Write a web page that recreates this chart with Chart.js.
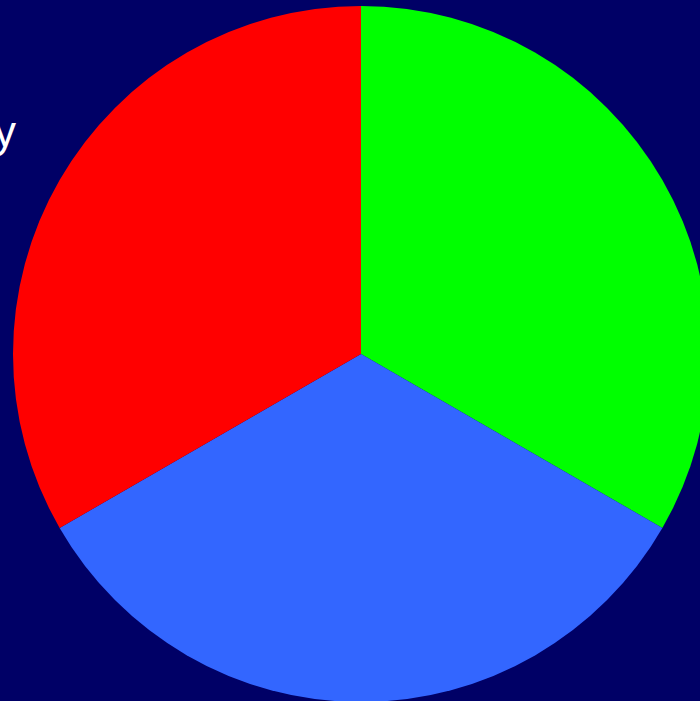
<!DOCTYPE html>
<html>
<head>
<meta charset="utf-8">
<script src="https://cdn.jsdelivr.net/npm/chart.js@4"></script>
<style>
  html, body { margin: 0; padding: 0; background: #000066; overflow: hidden; width: 700px; height: 701px; }
  #wrap { position: absolute; left: 13px; top: 6px; width: 696px; height: 696px; }
  #caption { position: absolute; right: 684px; top: 107px; color: #fff; font: 44px "Liberation Sans", Arial, sans-serif; white-space: nowrap; }
</style>
</head>
<body>
<div id="caption">Category</div>
<div id="wrap"><canvas id="pie"></canvas></div>
<script>
const labels = ['Green', 'Blue', 'Red']
const values = [1, 1, 1]
const colors = ['#00ff00', '#3366ff', '#ff0000']

new Chart(document.getElementById('pie'), {
    type: 'pie',
    data: {
        labels,
        datasets: [{
            data: values,
            backgroundColor: colors,
            borderWidth: 0
        }]
    },
    options: {
        responsive: true,
        maintainAspectRatio: false,
        animation: false,
        layout: { padding: 0 },
        plugins: {
            legend: { display: false },
            tooltip: { enabled: false }
        }
    }
})
</script>
</body>
</html>
